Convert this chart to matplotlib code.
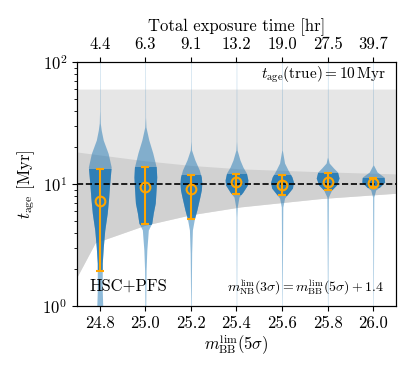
import numpy as np
import matplotlib
matplotlib.use("Agg")
import matplotlib.pyplot as plt
from matplotlib.patches import Rectangle

plt.rcParams['font.family'] = 'serif'
plt.rcParams['font.serif'] = ['cmr10']
plt.rcParams['mathtext.fontset'] = 'cm'
plt.rcParams['axes.formatter.use_mathtext'] = True
plt.rcParams['font.size'] = 12

# limiting broad-band magnitudes and matching exposure times
mag_lim = [24.8, 25.0, 25.2, 25.4, 25.6, 25.8, 26.0]
exp_time = ['4.4', '6.3', '9.1', '13.2', '19.0', '27.5', '39.7']

# median and 16-84 percentile of recovered age [Myr]
age_med = [7.26, 9.4, 9.1, 10.3, 9.9, 10.3, 10.2]
age_lo = [1.94, 4.7, 5.2, 8.3, 8.1, 8.9, 9.4]
age_hi = [13.3, 13.8, 11.9, 12.1, 11.8, 12.4, 11.3]

# violin profiles: log10(age) levels and relative density
prof_logt = [
    [2.0, 1.6, 1.5, 1.44, 1.36, 1.25, 1.14, 1.0, 0.89, 0.76, 0.62, 0.48, 0.35, 0.28, 0.13, 0.0],
    [2.0, 1.55, 1.467, 1.361, 1.254, 1.139, 1.057, 0.975, 0.844, 0.762, 0.68, 0.623, 0.566, 0.459, 0.295, 0.0],
    [2.0, 1.35, 1.279, 1.197, 1.115, 1.057, 1.008, 0.951, 0.893, 0.787, 0.713, 0.623, 0.434, 0.213, 0.0],
    [2.0, 1.35, 1.279, 1.197, 1.139, 1.090, 1.033, 0.992, 0.934, 0.893, 0.811, 0.730, 0.0],
    [2.0, 1.279, 1.172, 1.115, 1.057, 1.016, 0.967, 0.926, 0.885, 0.811, 0.0],
    [2.0, 1.221, 1.172, 1.131, 1.098, 1.049, 0.992, 0.951, 0.893, 0.0],
    [2.0, 1.156, 1.098, 1.057, 1.016, 0.975, 0.951, 0.893, 0.0],
]
prof_dens = [
    [0.3, 0.4, 1, 3, 7, 17, 23, 20, 18, 15, 10, 7, 5, 5, 5, 6],
    [0.3, 0.4, 1.2, 7, 15, 22, 23, 22, 20, 16, 13, 6, 5, 3, 1.5, 0.8],
    [0.3, 0.4, 1.2, 8, 17, 21, 22, 21, 18, 12, 7, 3, 1.5, 1, 0.5],
    [0.3, 0.4, 1.2, 7, 13, 20, 23, 22, 13, 5, 1.5, 0.8, 0.3],
    [0.3, 0.5, 5, 12, 20, 23, 21, 13, 5, 1.5, 0.3],
    [0.3, 0.5, 3, 12, 20, 23, 18, 8, 1.5, 0.3],
    [0.3, 0.5, 8, 22, 23, 13, 5, 1.2, 0.3],
]

# shaded bands
band_x = [24.70, 24.78, 25.00, 25.20, 25.42, 25.77, 26.10]
band_lo = [1.73, 3.3, 4.6, 5.6, 6.5, 7.6, 8.4]
band_hi = [18.3, 17.5, 15.5, 14.2, 13.3, 12.6, 12.1]
prior_top = 60.0

fig = plt.figure(figsize=(4.15, 3.74), dpi=100)
ax = fig.add_axes([0.1855, 0.1818, 0.7687, 0.6524])
ax.set_yscale('log')

ax.fill_between(band_x, band_lo, prior_top, color='0.9', lw=0, zorder=0)
ax.fill_between(band_x, band_lo, band_hi, color='0.82', lw=0, zorder=0.5)

dmax = max(max(d) for d in prof_dens)
half_w = 0.05
for i, m in enumerate(mag_lim):
    t = 10 ** np.array(prof_logt[i])
    w = np.array(prof_dens[i]) / dmax * half_w
    ax.fill_betweenx(t, m - w, m + w, color='C0', alpha=0.5, lw=0, zorder=1)
    dark = ax.fill_betweenx(t, m - w, m + w, color='C0', alpha=0.8, lw=0, zorder=1.5)
    clip = Rectangle((m - 0.1, age_lo[i]), 0.2, age_hi[i] - age_lo[i],
                     transform=ax.transData)
    dark.set_clip_path(clip)

ax.axhline(10, color='k', ls='--', lw=1.2, zorder=2)

yerr = [np.array(age_med) - np.array(age_lo), np.array(age_hi) - np.array(age_med)]
ax.errorbar(mag_lim, age_med, yerr=yerr, fmt='o', mfc='none', mec='orange',
            ms=7, mew=1.5, ecolor='orange', elinewidth=1.5, capsize=3, zorder=3)

ax.set_xlim(24.7, 26.1)
ax.set_ylim(1, 100)
ax.set_xticks(mag_lim)
ax.set_xticklabels([f'{m:.1f}' for m in mag_lim])
ax.set_xlabel(r'$m_{\rm BB}^{\rm lim}(5\sigma)$', labelpad=1)
ax.set_ylabel(r'$t_{\rm age}$ [Myr]')

ax.text(0.969, 0.947, r'$t_{\rm age}({\rm true}) = 10\,{\rm Myr}$', transform=ax.transAxes,
        ha='right', va='center', fontsize=11)
ax.text(0.04, 0.082, 'HSC+PFS', transform=ax.transAxes, ha='left', va='center', fontsize=12)
ax.text(0.962, 0.078, r'$m_{\rm NB}^{\rm lim}(3\sigma) = m_{\rm BB}^{\rm lim}(5\sigma) + 1.4$',
        transform=ax.transAxes, ha='right', va='center', fontsize=10)

ax2 = ax.twiny()
ax2.set_xlim(ax.get_xlim())
ax2.set_xticks(mag_lim)
ax2.set_xticklabels(exp_time)
ax2.set_xlabel('Total exposure time [hr]')

fig.savefig('out.png', dpi=100)
